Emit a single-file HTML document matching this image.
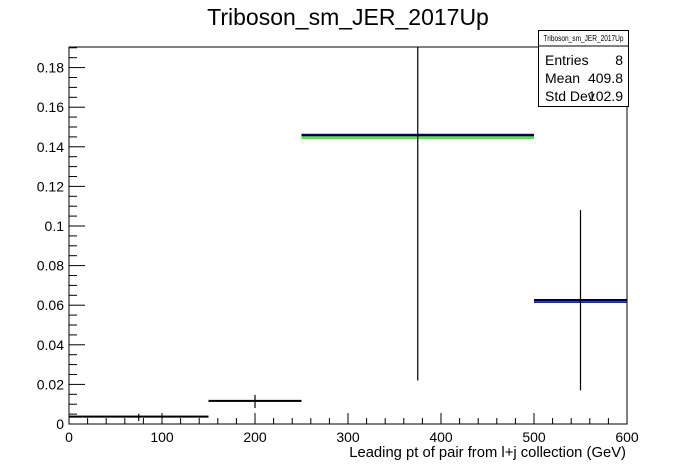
<!DOCTYPE html>
<html><head><meta charset="utf-8"><style>
body{margin:0;background:#fff}
svg{display:block;font-family:"Liberation Sans",Arial,sans-serif}
</style></head><body>
<svg id="c" width="696" height="472" viewBox="0 0 696 472">
<rect width="696" height="472" fill="#fff"/>
<text x="348" y="25" font-size="23" text-anchor="middle">Triboson_sm_JER_2017Up</text>
<rect x="69" y="47" width="558" height="377" fill="none" stroke="#000" stroke-width="1"/>
<g id="axes"></g>
<g id="marks"></g>
<text x="626" y="457" font-size="14.8" text-anchor="end">Leading pt of pair from l+j collection (GeV)</text>
<g>
<rect x="538.5" y="30.5" width="90" height="76" fill="#fff" stroke="#000"/>
<line x1="538.5" y1="46" x2="628.5" y2="46" stroke="#000"/>
<text x="583.5" y="41" font-size="8.5" text-anchor="middle" textLength="80" lengthAdjust="spacingAndGlyphs">Triboson_sm_JER_2017Up</text>
<text x="545" y="65" font-size="14">Entries</text>
<text x="623" y="65" font-size="14" text-anchor="end">8</text>
<text x="545" y="83" font-size="14">Mean</text>
<text x="623" y="83" font-size="14" text-anchor="end">409.8</text>
<text x="545" y="101" font-size="14">Std Dev</text>
<text x="623" y="101" font-size="14" text-anchor="end">102.9</text>
</g>
</svg>
<script>
const binEdges=[0,150,250,500,600];
const blackVals=[0.0037,0.0117,0.1457,0.0626];
const blueVals=[0.0037,0.0117,0.1462,0.0616];
const greenVals=[0.0037,0.0117,0.1444,0.0616];
const errLow=[0.0015,0.0081,0.022,0.017];
const errHigh=[0.0052,0.0147,0.25,0.108];
const xTicks=[0,100,200,300,400,500,600];
const yTicks=[0,0.02,0.04,0.06,0.08,0.1,0.12,0.14,0.16,0.18];
const yTickLabels=["0","0.02","0.04","0.06","0.08","0.1","0.12","0.14","0.16","0.18"];
const X0=69,X1=627,Y0=424,Y1=47,XMAX=600,YMAX=0.1904;
const xs=v=>X0+(X1-X0)*v/XMAX;
const ys=v=>Y0-(Y0-Y1)*Math.min(v,YMAX)/YMAX;
const NS="http://www.w3.org/2000/svg";
function mk(tag,attrs,parent){const e=document.createElementNS(NS,tag);for(const k in attrs)e.setAttribute(k,attrs[k]);parent.appendChild(e);return e;}
const ax=document.getElementById('axes'),mg=document.getElementById('marks');
for(let v=0;v<=XMAX;v+=20){const big=v%100===0;const l=mk('line',{x1:xs(v),x2:xs(v),y1:Y0,y2:Y0-(big?11:6),stroke:'#000'},ax);

}
xTicks.forEach(v=>{const t=mk('text',{x:xs(v),y:Y0+18,'font-size':14,'text-anchor':'middle'},ax);t.textContent=v;

});
for(let i=0;i<=38;i++){const v=i*0.005;if(v>YMAX)break;const big=i%4===0;const l=mk('line',{x1:X0,x2:X0+(big?16:8),y1:ys(v),y2:ys(v),stroke:'#000'},ax);

}
yTicks.forEach((v,i)=>{const t=mk('text',{x:X0-5,y:ys(v)+5,'font-size':14,'text-anchor':'end'},ax);t.textContent=yTickLabels[i];

});
function series(vals,color,name,w){vals.forEach((v,i)=>{const l=mk('line',{x1:xs(binEdges[i]),x2:xs(binEdges[i+1]),y1:ys(v),y2:ys(v),stroke:color,'stroke-width':w},mg);

});}
series(greenVals,'#00ff00','green-bin',1.6);
series(blueVals,'#0000ff','blue-bin',1.6);
series(blackVals,'#000','black-bin',2);
blackVals.forEach((v,i)=>{const cx=(binEdges[i]+binEdges[i+1])/2;const l=mk('line',{x1:xs(cx),x2:xs(cx),y1:ys(errLow[i]),y2:ys(errHigh[i]),stroke:'#000','stroke-width':1.2},mg);

});
</script>
</body></html>
